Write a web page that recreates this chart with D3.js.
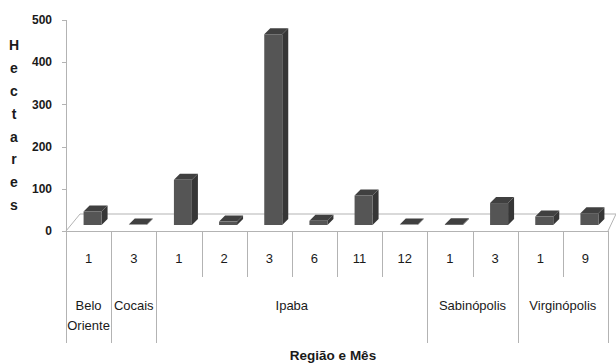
<!DOCTYPE html>
<html>
<head>
<meta charset="utf-8">
<script src="https://cdn.jsdelivr.net/npm/d3@7"></script>
<style>
  html, body { margin: 0; padding: 0; background: #fff; }
  svg { display: block; }
  text { font-family: "Liberation Sans", Arial, sans-serif; }
</style>
</head>
<body>
<svg id="chart" width="616" height="363"></svg>
<script>
const regions = ["Belo Oriente", "Cocais", "Ipaba", "Ipaba", "Ipaba", "Ipaba", "Ipaba", "Ipaba",
                 "Sabinópolis", "Sabinópolis", "Virginópolis", "Virginópolis"];
const months = ["1", "3", "1", "2", "3", "6", "11", "12", "1", "3", "1", "9"];
const hectares = [32, 1, 107, 8, 452, 10, 70, 1, 2, 52, 20, 28];
const yTicks = [0, 100, 200, 300, 400, 500];
const yTitle = "Hectares";
const xTitle = "Região e Mês";

const svg = d3.select("#chart");
const idx = d3.range(months.length);

const x = d3.scaleBand().domain(idx).range([66, 608]);
const y = d3.scaleLinear().domain([0, 500]).range([231, 20]);

const lineColor = "#b3b3b3";
const floorFront = y(0);
const floorBack = 214;
const barBase = 225;
const depthX = 6, depthY = 6;
const barW = 18;
const textColor = "#1a1a1a";

// floor
const floor = svg.append("g").attr("fill", "none").attr("stroke", lineColor).attr("stroke-width", 1);
floor.append("line").attr("x1", 80).attr("y1", floorBack).attr("x2", 616).attr("y2", floorBack);
floor.append("line").attr("x1", x.range()[0]).attr("y1", floorFront).attr("x2", 80).attr("y2", floorBack);
floor.append("line").attr("x1", x.range()[1]).attr("y1", floorFront).attr("x2", 616).attr("y2", floorBack);

// value axis
const yAxis = svg.append("g");
yAxis.append("line").attr("x1", 66.5).attr("x2", 66.5).attr("y1", y(500)).attr("y2", y(0))
  .attr("stroke", lineColor);
yAxis.selectAll("line.tick").data(yTicks).join("line").attr("class", "tick")
  .attr("x1", 62).attr("x2", 66.5).attr("y1", d => Math.round(y(d)) + 0.5).attr("y2", d => Math.round(y(d)) + 0.5)
  .attr("stroke", lineColor);
yAxis.selectAll("text").data(yTicks).join("text")
  .attr("x", 52).attr("y", d => y(d)).attr("dy", "0.35em")
  .attr("text-anchor", "end").attr("font-size", 12).attr("font-weight", "bold").attr("fill", textColor)
  .text(d => d);

// y title, stacked letters
svg.append("g").selectAll("text").data(yTitle.split("")).join("text")
  .attr("x", 14).attr("y", (d, i) => 45 + i * 22.9).attr("dy", "0.35em")
  .attr("text-anchor", "middle").attr("font-size", 14).attr("font-weight", "bold").attr("fill", textColor)
  .text(d => d);

// bars
const bars = svg.append("g");
idx.forEach(i => {
  const cx = x(i) + x.bandwidth() / 2 + 4;
  const x0 = cx - barW / 2, x1 = cx + barW / 2;
  const h = Math.max(y(0) - y(hectares[i]), 0);
  const top = barBase - h;
  const g = bars.append("g");
  // side
  g.append("path").attr("d", `M${x1},${barBase} L${x1 + depthX},${barBase - depthY} L${x1 + depthX},${top - depthY} L${x1},${top} Z`)
    .attr("fill", "#363636");
  // top
  g.append("path").attr("d", `M${x0},${top} L${x0 + depthX},${top - depthY} L${x1 + depthX},${top - depthY} L${x1},${top} Z`)
    .attr("fill", "#404040");
  // front
  if (h > 0.5) {
    g.append("rect").attr("x", x0).attr("y", top).attr("width", barW).attr("height", h).attr("fill", "#555555");
  }
});

// category table
const table = svg.append("g").attr("stroke", lineColor);
table.append("line").attr("x1", x.range()[0]).attr("x2", x.range()[1]).attr("y1", floorFront + 0.5).attr("y2", floorFront + 0.5);
const boundaries = d3.range(months.length + 1);
boundaries.forEach(b => {
  const bx = Math.round(b === months.length ? x.range()[1] : x(b)) + 0.5;
  const isGroup = b === 0 || b === months.length || regions[b] !== regions[b - 1];
  table.append("line").attr("x1", bx).attr("x2", bx).attr("y1", floorFront).attr("y2", isGroup ? 343 : 277);
});

svg.append("g").selectAll("text").data(idx).join("text")
  .attr("x", i => x(i) + x.bandwidth() / 2).attr("y", 258).attr("dy", "0.35em")
  .attr("text-anchor", "middle").attr("font-size", 13).attr("fill", textColor)
  .text(i => months[i]);

// group labels
const groups = [];
idx.forEach(i => {
  if (i === 0 || regions[i] !== regions[i - 1]) groups.push({ name: regions[i], start: i, end: i });
  else groups[groups.length - 1].end = i;
});
const gl = svg.append("g");
groups.forEach(g => {
  const cx = (x(g.start) + x(g.end) + x.bandwidth()) / 2;
  const words = g.end === g.start && g.name.includes(" ") ? g.name.split(" ") : [g.name];
  words.forEach((w, k) => {
    gl.append("text").attr("x", cx).attr("y", 305 + k * 20).attr("dy", "0.35em")
      .attr("text-anchor", "middle").attr("font-size", 13).attr("fill", textColor).text(w);
  });
});

svg.append("text").attr("x", 333).attr("y", 355).attr("dy", "0.35em")
  .attr("text-anchor", "middle").attr("font-size", 13.5).attr("font-weight", "bold").attr("fill", textColor)
  .text(xTitle);
</script>
</body>
</html>
